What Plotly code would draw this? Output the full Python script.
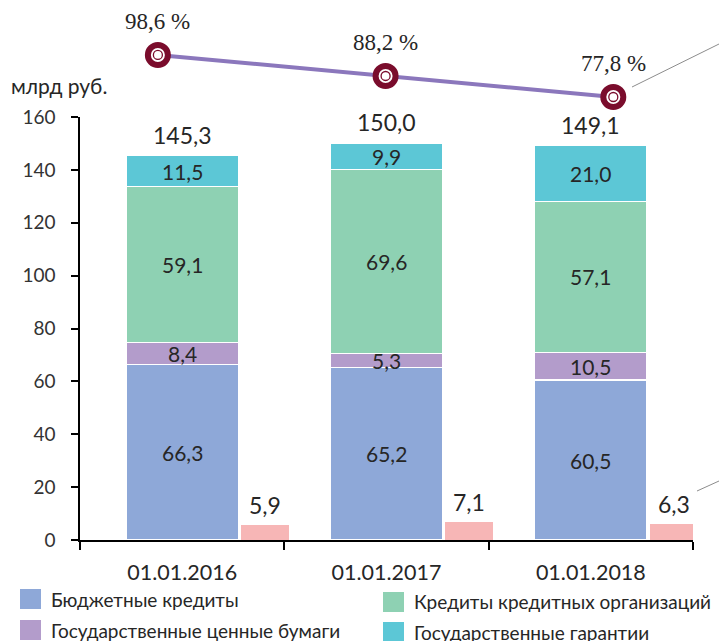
import plotly.graph_objects as go

# ---- data -------------------------------------------------------------
dates = ["01.01.2016", "01.01.2017", "01.01.2018"]
budget_loans = [66.3, 65.2, 60.5]
gov_securities = [8.4, 5.3, 10.5]
bank_loans = [59.1, 69.6, 57.1]
gov_guarantees = [11.5, 9.9, 21.0]
side_values = [5.9, 7.1, 6.3]
debt_ratio = [98.6, 88.2, 77.8]

series_names = [
    "Бюджетные кредиты",
    "Государственные ценные бумаги",
    "Кредиты кредитных организаций",
    "Государственные гарантии",
]
unit_label = "млрд руб."

# ---- styling ----------------------------------------------------------
FONT = "Lato"
TEXT = "#262626"
COLORS = ["#8EA8D8", "#B39CCB", "#8ED1B3", "#5CC7D6"]
PINK = "#F7B6B6"
LINE_COLOR = "#8B77BC"
RING = "#7A0C2C"

W, H = 719, 641
M_L, M_R, M_T, M_B = 80, 26, 0, 101
PW = W - M_L - M_R
PH = H - M_T - M_B


def px_x(x):
    return (x - M_L) / PW


def px_y(y):
    return (H - M_B - y) / PH


MAIN_TOP = px_y(117)
BAR_W = 0.55
SIDE_W = 0.24
SIDE_OFF = 0.285


def fmt(v):
    return f"{v:.1f}".replace(".", ",")


fig = go.Figure()

stack = [budget_loans, gov_securities, bank_loans, gov_guarantees]
for name, vals, color in zip(series_names, stack, COLORS):
    fig.add_trace(go.Bar(
        x=dates, y=vals, name=name, width=BAR_W,
        marker=dict(color=color, line=dict(color="white", width=1.2)),
        showlegend=False, hoverinfo="x+y+name",
    ))

fig.add_trace(go.Bar(
    x=dates, y=side_values, yaxis="y2", width=SIDE_W, offset=SIDE_OFF,
    marker=dict(color=PINK, line=dict(color="white", width=1)),
    showlegend=False, hoverinfo="x+y",
))

# ratio line with double-ring markers
fig.add_trace(go.Scatter(
    x=list(range(len(dates))), y=debt_ratio, xaxis="x2", yaxis="y3",
    mode="lines+markers", cliponaxis=False,
    line=dict(color=LINE_COLOR, width=4),
    marker=dict(size=20, color="white", line=dict(color=RING, width=6)),
    showlegend=False, hoverinfo="y",
))
fig.add_trace(go.Scatter(
    x=list(range(len(dates))), y=debt_ratio, xaxis="x2", yaxis="y3",
    mode="markers", cliponaxis=False,
    marker=dict(size=9, color="white", line=dict(color=RING, width=1.3)),
    showlegend=False, hoverinfo="skip",
))

annotations = []

# segment labels
cum = [0.0] * len(dates)
for vals in stack:
    for i, v in enumerate(vals):
        annotations.append(dict(
            x=i, y=cum[i] + v / 2, xref="x", yref="y", text=fmt(v),
            showarrow=False, font=dict(family=FONT, size=21, color=TEXT),
        ))
        cum[i] += v

# totals above stacks
for i, tot in enumerate(cum):
    annotations.append(dict(
        x=i, y=tot, xref="x", yref="y", text=fmt(tot), yshift=21,
        showarrow=False, font=dict(family=FONT, size=23, color=TEXT),
    ))

# labels above side bars
for i, v in enumerate(side_values):
    annotations.append(dict(
        x=i + SIDE_OFF + SIDE_W / 2, y=v, xref="x", yref="y", text=fmt(v),
        yshift=19, showarrow=False, font=dict(family=FONT, size=23, color=TEXT),
    ))

# ratio labels
for i, v in enumerate(debt_ratio):
    annotations.append(dict(
        x=i, y=v, xref="x2", yref="y3", text=fmt(v) + " %", yshift=33,
        showarrow=False,
        font=dict(family="Liberation Sans Narrow", size=23, color=TEXT),
    ))

# unit label
annotations.append(dict(
    x=px_x(9), y=px_y(85), xref="paper", yref="paper", text=unit_label,
    xanchor="left", yanchor="middle", showarrow=False,
    font=dict(family=FONT, size=21, color=TEXT),
))

# legend drawn as swatches + text in two columns
shapes = []
legend_items = [
    (0, 20, 599), (1, 20, 630), (2, 383, 602), (3, 383, 632),
]
for idx, lx, ly in legend_items:
    shapes.append(dict(
        type="rect", xref="paper", yref="paper",
        x0=px_x(lx), x1=px_x(lx + 21), y0=px_y(ly + 10), y1=px_y(ly - 10),
        fillcolor=COLORS[idx], line=dict(width=0),
    ))
    annotations.append(dict(
        x=px_x(lx + 29), y=px_y(ly), xref="paper", yref="paper",
        text=series_names[idx], xanchor="left", yanchor="middle",
        showarrow=False, font=dict(family=FONT, size=19, color=TEXT),
    ))

# callout leader lines
for (x0, y0, x1, y1) in [(632, 87, 719, 44), (697, 491, 719, 481)]:
    shapes.append(dict(
        type="line", xref="paper", yref="paper",
        x0=px_x(x0), y0=px_y(y0), x1=px_x(x1), y1=px_y(y1),
        line=dict(color="#8C8C8C", width=1),
    ))

fig.update_layout(
    width=W, height=H,
    margin=dict(l=M_L, r=M_R, t=M_T, b=M_B, pad=0, autoexpand=False),
    paper_bgcolor="white", plot_bgcolor="white",
    barmode="stack",
    font=dict(family=FONT, color=TEXT),
    xaxis=dict(
        type="category", domain=[0, 1], anchor="y", range=[-0.5, 2.5],
        showline=True, linecolor="black", linewidth=2, automargin=False,
        ticks="outside", tickson="boundaries", ticklen=8, tickcolor="black",
        tickwidth=1.5, ticklabelstandoff=12,
        tickfont=dict(family=FONT, size=21.5, color=TEXT),
        showgrid=False, zeroline=False,
    ),
    yaxis=dict(
        domain=[0, MAIN_TOP], range=[0, 160], dtick=20, anchor="x",
        showline=True, linecolor="black", linewidth=1.5, automargin=False,
        ticks="outside", ticklen=7, tickcolor="black", tickwidth=1.5,
        ticklabelstandoff=12,
        tickfont=dict(family=FONT, size=19, color="#333333"),
        showgrid=False, zeroline=False,
    ),
    yaxis2=dict(overlaying="y", range=[0, 160], visible=False),
    xaxis2=dict(domain=[0, 1], anchor="y3", range=[-0.342, 2.35], visible=False),
    yaxis3=dict(domain=[MAIN_TOP, 1], anchor="x2", range=[67.9, 125.8],
                visible=False),
    annotations=annotations,
    shapes=shapes,
)

fig.write_html("out.html")
